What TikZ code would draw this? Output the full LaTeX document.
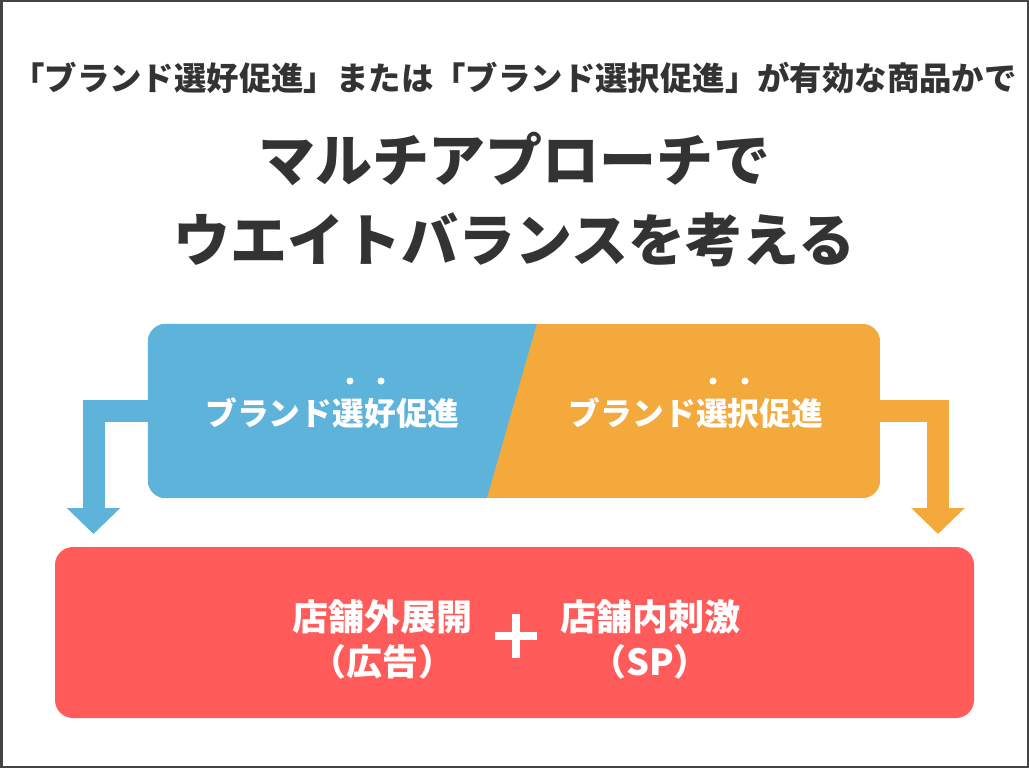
\documentclass[tikz,border=0pt]{standalone}
\usepackage{fontspec}
\setmainfont{Noto Sans CJK JP}
\usetikzlibrary{arrows.meta,calc}
\definecolor{cblue}{HTML}{5DB3DA}
\definecolor{corange}{HTML}{F3A93C}
\definecolor{cred}{HTML}{FF5B5B}
\definecolor{ctext}{HTML}{333333}
\definecolor{cframe}{HTML}{444444}
\tikzset{
  bendarrow/.style={line width=22pt, line join=miter, -{Triangle[width=52pt,length=26pt]}},
  boxtext/.style={text=white, font=\fontsize{31.8}{31.8}\selectfont\bfseries},
  bottomtext/.style={text=white, align=center, font=\fontsize{36}{45}\selectfont\bfseries},
  emdot/.style={fill=white},
}
\begin{document}
\begin{tikzpicture}[x=1pt,y=-1pt]
\useasboundingbox (0,0) rectangle (1029,768);
\draw[cframe, line width=2.5pt] (1.25,1.25) rectangle (1027.75,766.75);

\node[text=ctext, font=\fontsize{32.4}{32.4}\selectfont\bfseries] (sub) at (514.5,78) {「ブランド選好促進」または「ブランド選択促進」が有効な商品かで};
\node[text=ctext, align=center, font=\fontsize{57}{80}\selectfont\bfseries] (title) at (514.5,200) {マルチアプローチで\\ウエイトバランスを考える};

\node[inner sep=0pt, minimum width=732pt, minimum height=174pt] (top) at (514,411) {};
\node[fill=cred, rounded corners=18pt, inner sep=0pt, minimum width=919pt, minimum height=171pt] (bottom) at (514.5,632.5) {};

\coordinate (ltip) at (93.5,534);
\coordinate (rtip) at (938,534);
\draw[bendarrow, cblue] (top.west) -| (ltip);
\draw[bendarrow, corange] (top.east) -| (rtip);

\begin{scope}
  \clip[rounded corners=18pt] (top.north west) rectangle (top.south east);
  \fill[corange] (top.north west) rectangle (top.south east);
  \fill[cblue] (top.north west) -- ($(top.north west)+(389,0)$) -- ($(top.south west)+(339,0)$) -- (top.south west) -- cycle;
\end{scope}

\node[boxtext] (pref) at (332.5,413) {ブランド選好促進};
\node[boxtext] (choice) at (696,413) {ブランド選択促進};
\fill[emdot] (350,381) circle (3.5);
\fill[emdot] (381,381) circle (3.5);
\fill[emdot] (713,381) circle (3.5);
\fill[emdot] (745,381) circle (3.5);

\node[bottomtext] (outside) at (382,639.5) {店舗外展開\\（広告）};
\node[bottomtext] (inside) at (650,639.5) {店舗内刺激\\（SP）};
\draw[white, line width=8pt] (495,636) -- (537,636);
\draw[white, line width=8pt] (516,614) -- (516,658);
\end{tikzpicture}
\end{document}
